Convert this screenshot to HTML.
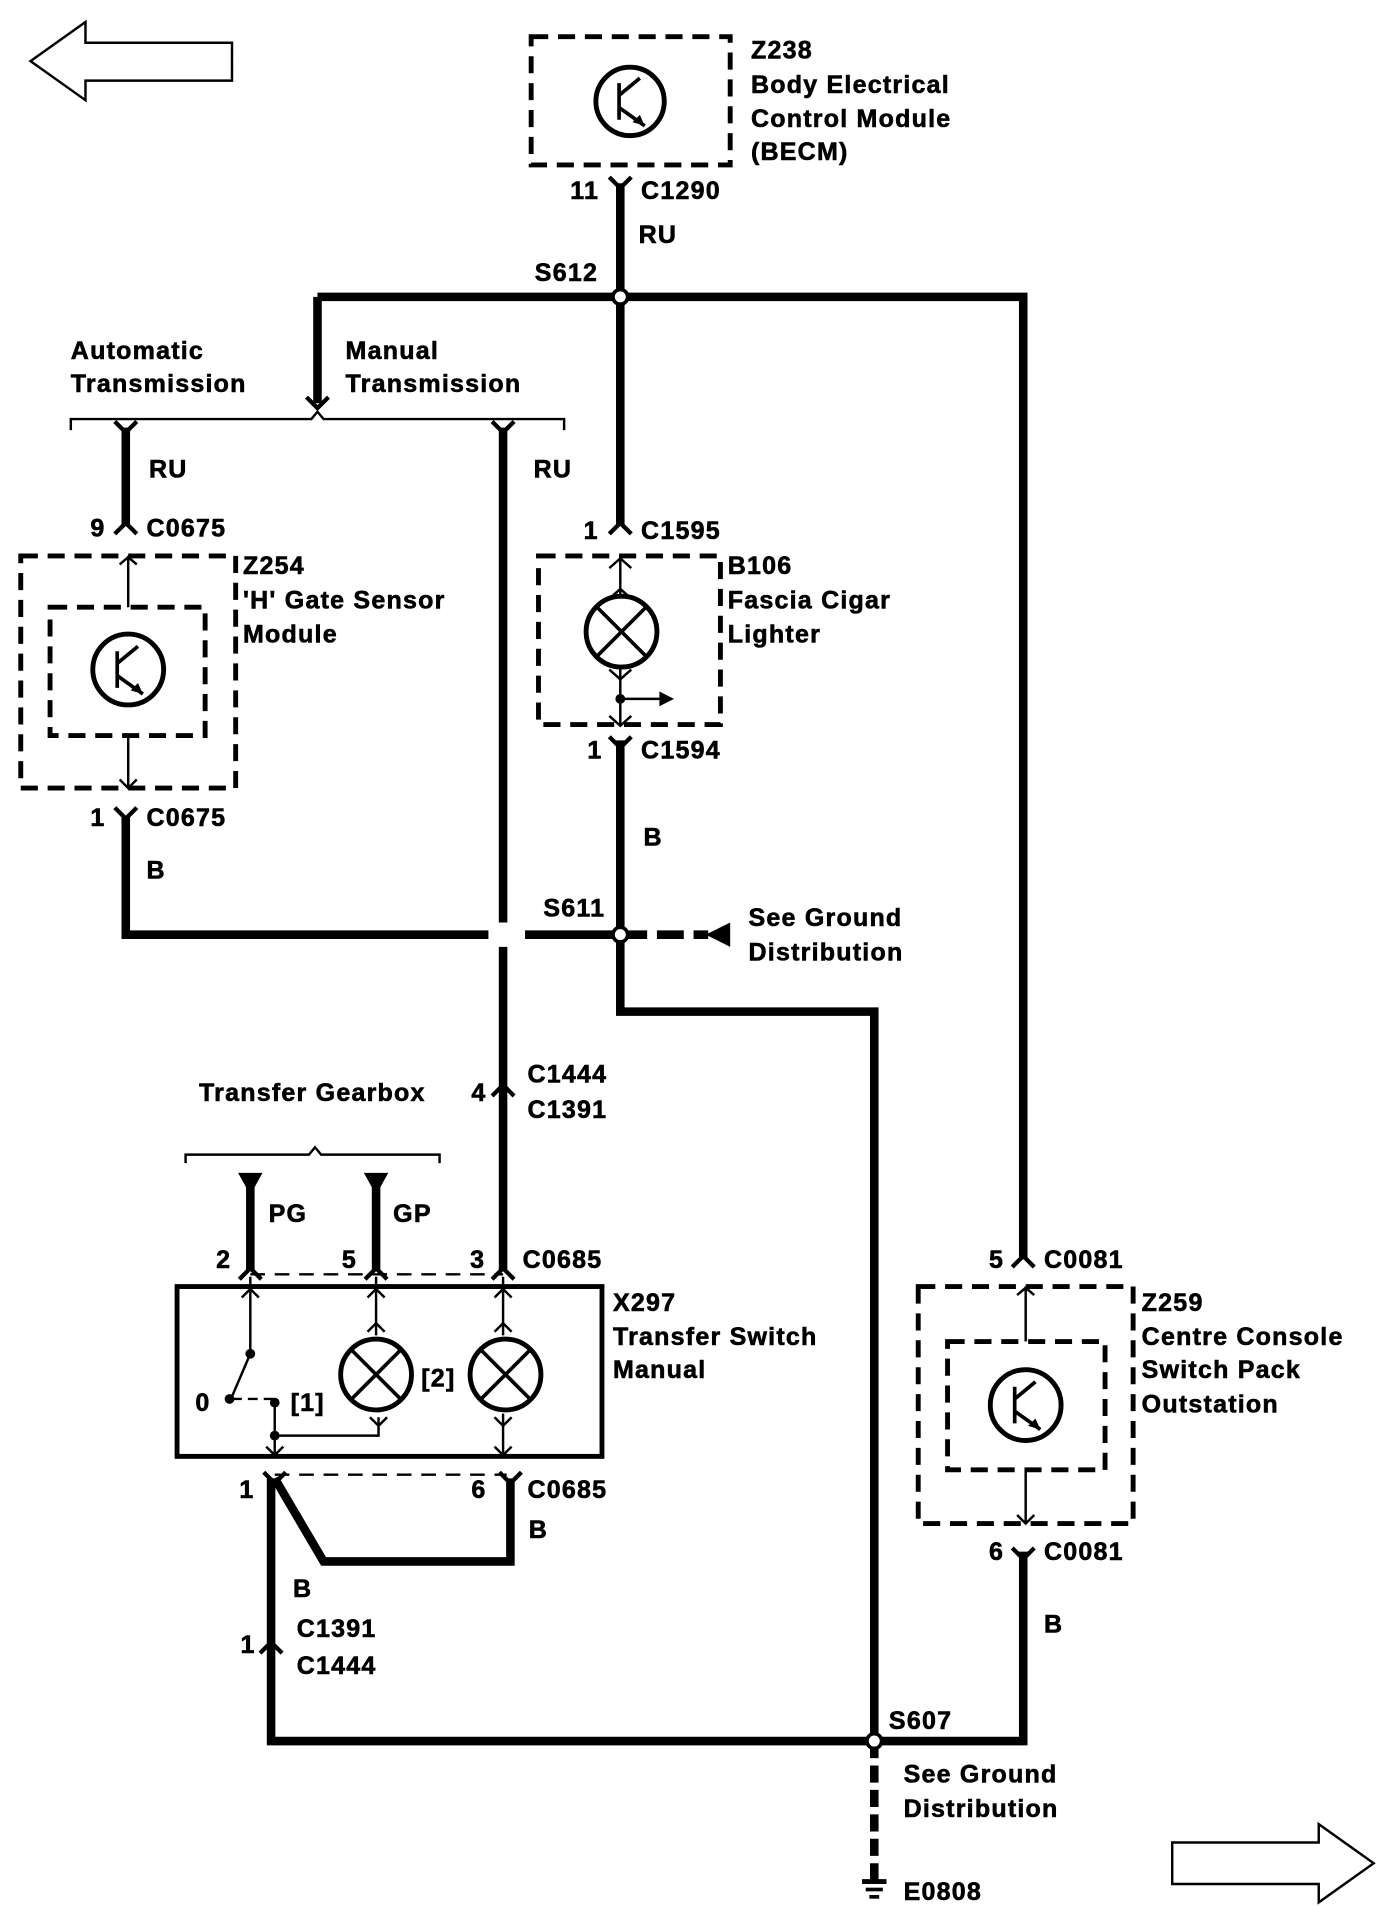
<!DOCTYPE html>
<html><head><meta charset="utf-8"><style>
html,body{margin:0;padding:0;background:#fff}
svg{display:block}
text{font-family:"Liberation Sans",Arial,sans-serif;font-weight:bold;font-size:20.5px;letter-spacing:1px;fill:#000;stroke:#000;stroke-width:0.5px}
</style></head><body>
<svg width="1392" height="1906" viewBox="0 0 1140 1560" preserveAspectRatio="none" xmlns="http://www.w3.org/2000/svg">
<g fill="none" stroke="#000">
<path d="M25,50 L70,18 L70,35 L190,35 L190,66 L70,66 L70,82 Z" stroke-width="2"/>
<path d="M1125,1525 L1080,1493 L1080,1508 L960,1508 L960,1542 L1080,1542 L1080,1557 Z" stroke-width="2"/>
<g stroke-width="4" stroke-dasharray="14,8">
<rect x="435" y="30" width="163" height="105"/>
<rect x="17" y="455" width="176" height="190"/>
<rect x="41" y="497" width="127" height="105"/>
<rect x="441" y="455" width="149" height="138"/>
<rect x="752" y="1053" width="176" height="194"/>
<rect x="776" y="1098" width="129" height="105"/>
</g>
<rect x="145" y="1053" width="348" height="139" stroke-width="4"/>
<g stroke-width="4">
<circle cx="516" cy="83" r="28"/><circle cx="105" cy="548" r="29"/><circle cx="840" cy="1150" r="29"/>
<circle cx="509" cy="517" r="29"/><circle cx="308" cy="1125" r="29"/><circle cx="414" cy="1125" r="29"/>
</g>
<g stroke-width="3">
<path d="M507,68 V98 M507,78 L524,64 M507,88 L528,103"/>
<path d="M96,533 V563 M96,543 L113,529 M96,553 L117,568"/>
<path d="M831,1135 V1165 M831,1145 L848,1131 M831,1155 L852,1170"/>
<path d="M488,496 L530,538 M530,496 L488,538"/>
<path d="M287,1104 L329,1146 M329,1104 L287,1146"/>
<path d="M393,1104 L435,1146 M435,1104 L393,1146"/>
</g>
<g fill="#000" stroke="none">
<path d="M528,103 L518,100 L524,94Z"/><path d="M117,568 L107,565 L113,559Z"/><path d="M852,1170 L842,1167 L848,1161Z"/>
</g>
<g stroke-width="7">
<path d="M508,150 V430"/>
<path d="M260,243 H838 V1030"/>
<path d="M260,243 V330"/>
<path d="M103,350 V430"/>
<path d="M412,350 V755 M412,775 V1040"/>
<path d="M103,668 V765 H400 M430,765 H508"/>
<path d="M508,606 V828 H716 V1425"/>
<path d="M838,1270 V1425 H222 V1210"/>
<path d="M205,968 V1040 M308,968 V1040"/>
<path d="M225,1210 L265,1278 H418 V1210"/>
<path d="M716,1425 V1540" stroke-dasharray="14,6"/>
<path d="M508,765 H580" stroke-dasharray="22,8"/>
</g>
<g stroke-width="2">
<path d="M105,455 V497 M105,602 V645 M840,1053 V1098 M840,1203 V1247"/>
<path d="M508,455 V490 M508,545 V572 H550 M508,572 V593"/>
<path d="M205,1045 V1108 L190,1143 M225,1150 V1192 M225,1175 H310 V1160 M308,1045 V1093 M412,1045 V1093 M412,1157 V1192"/>
<path d="M190,1145 H225" stroke-dasharray="8,5"/>
<path d="M205,1043 H412" stroke-dasharray="12,8"/>
<path d="M225,1207 H415" stroke-dasharray="12,8"/>
<path d="M58,352 V343 H255 L260,337 L265,343 H462 V352"/>
<path d="M152,952 V945 H253 L258,939 L263,945 H360 V952"/>
</g>
<g stroke-width="3.5">
<path d="M499,145 L508,154 L517,145 M499,437 L508,428 L517,437 M94,437 L103,428 L112,437 M94,345 L103,354 L112,345 M403,345 L412,354 L421,345 M251,325 L260,334 L269,325 M94,661 L103,670 L112,661 M499,603 L508,612 L517,603 M829,1037 L838,1028 L847,1037 M829,1267 L838,1276 L847,1267 M196,1047 L205,1038 L214,1047 M299,1047 L308,1038 L317,1047 M403,1047 L412,1038 L421,1047 M216,1205 L225,1214 L234,1205 M409,1205 L418,1214 L427,1205 M403,897 L412,888 L421,897 M213,1353 L222,1344 L231,1353"/>
</g>
<g stroke-width="2">
<path d="M499,465 L508,457 L517,465 M499,490 L508,482 L517,490 M499,548 L508,556 L517,548 M499,586 L508,594 L517,586 M98,462 L105,456 L112,462 M98,638 L105,645 L112,638 M833,1060 L840,1054 L847,1060 M833,1240 L840,1247 L847,1240"/>
<path d="M198,1062 L205,1055 L212,1062 M301,1062 L308,1055 L315,1062 M405,1062 L412,1055 L419,1062 M301,1090 L308,1083 L315,1090 M405,1090 L412,1083 L419,1090 M303,1160 L310,1167 L317,1160 M405,1160 L412,1167 L419,1160 M218,1184 L225,1191 L232,1184 M405,1184 L412,1191 L419,1184"/>
</g>
<g fill="#000" stroke="none">
<path d="M195,960 H215 L205,978Z"/><path d="M298,960 H318 L308,978Z"/>
<path d="M578,765 L598,755 V775Z"/>
<path d="M540,566 L552,572 L540,578Z"/>
<circle cx="205" cy="1108" r="4"/><circle cx="188" cy="1145" r="4"/><circle cx="225" cy="1148" r="4"/><circle cx="225" cy="1175" r="4"/><circle cx="508" cy="572" r="4"/>
<rect x="706" y="1538" width="20" height="4"/><rect x="709" y="1545" width="14" height="3"/><rect x="712" y="1551" width="8" height="3"/>
</g>
<g fill="#fff" stroke-width="3">
<circle cx="508" cy="243" r="6"/><circle cx="508" cy="765" r="6"/><circle cx="716" cy="1425" r="6"/>
</g>
</g>
<text x="615" y="48">Z238</text><text x="615" y="76">Body Electrical</text><text x="615" y="104">Control Module</text><text x="615" y="131">(BECM)</text>
<text x="467" y="163">11</text><text x="525" y="163">C1290</text><text x="523" y="199">RU</text>
<text x="438" y="230">S612</text>
<text x="58" y="294">Automatic</text><text x="58" y="321">Transmission</text>
<text x="283" y="294">Manual</text><text x="283" y="321">Transmission</text>
<text x="122" y="391">RU</text><text x="437" y="391">RU</text>
<text x="74" y="439">9</text><text x="120" y="439">C0675</text>
<text x="478" y="441">1</text><text x="525" y="441">C1595</text>
<text x="199" y="470">Z254</text><text x="199" y="498">'H' Gate Sensor</text><text x="199" y="526">Module</text>
<text x="596" y="470">B106</text><text x="596" y="498">Fascia Cigar</text><text x="596" y="526">Lighter</text>
<text x="481" y="621">1</text><text x="525" y="621">C1594</text>
<text x="74" y="676">1</text><text x="120" y="676">C0675</text>
<text x="120" y="719">B</text><text x="527" y="692">B</text>
<text x="445" y="750">S611</text>
<text x="613" y="758">See Ground</text><text x="613" y="786">Distribution</text>
<text x="163" y="901">Transfer Gearbox</text>
<text x="386" y="901">4</text><text x="432" y="886">C1444</text><text x="432" y="915">C1391</text>
<text x="220" y="1000">PG</text><text x="322" y="1000">GP</text>
<text x="177" y="1038">2</text><text x="280" y="1038">5</text><text x="385" y="1038">3</text><text x="428" y="1038">C0685</text>
<text x="810" y="1038">5</text><text x="855" y="1038">C0081</text>
<text x="502" y="1073">X297</text><text x="502" y="1101">Transfer Switch</text><text x="502" y="1128">Manual</text>
<text x="935" y="1073">Z259</text><text x="935" y="1101">Centre Console</text><text x="935" y="1128">Switch Pack</text><text x="935" y="1156">Outstation</text>
<text x="160" y="1155">0</text><text x="238" y="1155">[1]</text><text x="345" y="1135">[2]</text>
<text x="196" y="1226">1</text><text x="386" y="1226">6</text><text x="432" y="1226">C0685</text>
<text x="433" y="1259">B</text>
<text x="810" y="1277">6</text><text x="855" y="1277">C0081</text>
<text x="240" y="1307">B</text><text x="855" y="1336">B</text>
<text x="197" y="1353">1</text><text x="243" y="1340">C1391</text><text x="243" y="1370">C1444</text>
<text x="728" y="1415">S607</text>
<text x="740" y="1459">See Ground</text><text x="740" y="1487">Distribution</text>
<text x="740" y="1555">E0808</text>
</svg>
</body></html>
